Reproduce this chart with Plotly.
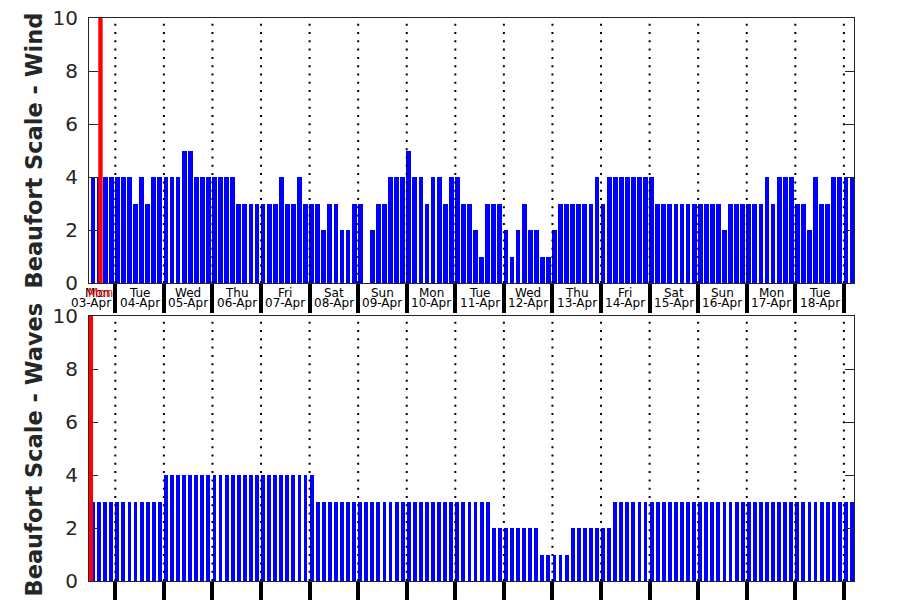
import pandas as pd
import plotly.graph_objects as go

# ---------------- data ----------------
start_time = "2023-04-03 13:00"
n_steps = 126
step = "3h"

wind = [4, 4, 4, 4,
        4, 4, 4, 3, 4, 3, 4, 4,
        4, 4, 4, 5, 5, 4, 4, 4,
        4, 4, 4, 4, 3, 3, 3, 3,
        3, 3, 3, 4, 3, 3, 4, 3,
        3, 3, 2, 3, 3, 2, 2, 3,
        3, 0, 2, 3, 3, 4, 4, 4,
        5, 4, 4, 3, 4, 4, 3, 4,
        4, 3, 3, 2, 1, 3, 3, 3,
        2, 1, 2, 3, 2, 2, 1, 1,
        2, 3, 3, 3, 3, 3, 3, 4,
        3, 4, 4, 4, 4, 4, 4, 4,
        4, 3, 3, 3, 3, 3, 3, 3,
        3, 3, 3, 3, 2, 3, 3, 3,
        3, 3, 3, 4, 3, 4, 4, 4,
        3, 3, 2, 4, 3, 3, 4, 4,
        4, 4]

waves = [3, 3, 3, 3,
         3, 3, 3, 3, 3, 3, 3, 3,
         4, 4, 4, 4, 4, 4, 4, 4,
         4, 4, 4, 4, 4, 4, 4, 4,
         4, 4, 4, 4, 4, 4, 4, 4,
         4, 3, 3, 3, 3, 3, 3, 3,
         3, 3, 3, 3, 3, 3, 3, 3,
         3, 3, 3, 3, 3, 3, 3, 3,
         3, 3, 3, 3, 3, 3, 2, 2,
         2, 2, 2, 2, 2, 2, 1, 1,
         1, 1, 1, 2, 2, 2, 2, 2,
         2, 2, 3, 3, 3, 3, 3, 3,
         3, 3, 3, 3, 3, 3, 3, 3,
         3, 3, 3, 3, 3, 3, 3, 3,
         3, 3, 3, 3, 3, 3, 3, 3,
         3, 3, 3, 3, 3, 3, 3, 3,
         3, 3]

day_names = ["Mon", "Tue", "Wed", "Thu", "Fri", "Sat", "Sun", "Mon",
             "Tue", "Wed", "Thu", "Fri", "Sat", "Sun", "Mon", "Tue"]
day_dates = ["03-Apr", "04-Apr", "05-Apr", "06-Apr", "07-Apr", "08-Apr",
             "09-Apr", "10-Apr", "11-Apr", "12-Apr", "13-Apr", "14-Apr",
             "15-Apr", "16-Apr", "17-Apr", "18-Apr"]
day_starts = ["2023-04-%02d" % d for d in range(4, 20)]
label_days = ["2023-04-%02d 12:00" % d for d in range(3, 19)]

x_range = ["2023-04-03 11:00", "2023-04-19 05:00"]
now_wind = "2023-04-03 16:40"
now_waves = "2023-04-03 12:00"
first_name_x = "2023-04-03 15:10"
first_date_x = "2023-04-03 11:55"

y_title_wind = "Beaufort Scale - Wind"
y_title_waves = "Beaufort Scale - Waves"

times = pd.date_range(start_time, periods=n_steps, freq=step)

# ---------------- figure ----------------
FONT = "DejaVu Sans"
AX = "#262626"
H = 3600 * 1000

fig = go.Figure()
fig.add_trace(go.Bar(x=times, y=wind, width=2.35 * H, marker_color="#0000ff",
                     marker_line_width=0, xaxis="x", yaxis="y", showlegend=False))
fig.add_trace(go.Bar(x=times, y=waves, width=1.9 * H, marker_color="#0000ff",
                     marker_line_width=0, xaxis="x2", yaxis="y2", showlegend=False))

shapes = []
for ya, xa in (("y", "x"), ("y2", "x2")):
    for d in day_starts:
        shapes.append(dict(type="line", xref=xa, yref=ya, x0=d, x1=d, y0=0, y1=10,
                           line=dict(color="black", width=2, dash="2px,6.3px"),
                           layer="above"))
shapes.append(dict(type="line", xref="x", yref="y", x0=now_wind, x1=now_wind,
                   y0=0, y1=10, line=dict(color="#ff0000", width=4.4), layer="above"))
shapes.append(dict(type="line", xref="x2", yref="y2", x0=now_waves, x1=now_waves,
                   y0=0, y1=10, line=dict(color="#ff0000", width=4), layer="above"))

# geometry: the page body adds an 8px offset, so the figure is 892x592
OFF = 8
FW, FH = 900 - OFF, 600 - OFF
L, R, T, B = 89 - OFF, 46, 18 - OFF, 19
plot_w = FW - L - R
plot_h = FH - T - B

def py(pix):
    return (FH - B - (pix - OFF)) / plot_h

def px(pix):
    return (pix - OFF - L) / plot_w

annotations = []
y_name = py(292.5)
y_date = py(302.5)
for i, (nm, dt) in enumerate(zip(day_names, day_dates)):
    xn = first_name_x if i == 0 else label_days[i]
    xd = first_date_x if i == 0 else label_days[i]
    annotations.append(dict(x=xn, y=y_name, xref="x", yref="paper", text=nm,
                            showarrow=False, xanchor="center", yanchor="middle",
                            font=dict(family=FONT, size=12, color="black")))
    annotations.append(dict(x=xd, y=y_date, xref="x", yref="paper", text=dt,
                            showarrow=False, xanchor="center", yanchor="middle",
                            font=dict(family=FONT, size=12, color="black")))
annotations.append(dict(x=now_wind, y=y_name, xref="x", yref="paper", text=day_names[0],
                        showarrow=False, xanchor="center", yanchor="middle",
                        font=dict(family=FONT, size=12, color="#ff0000")))

tx = px(33.5)
annotations.append(dict(x=tx, y=py(151), xref="paper", yref="paper",
                        text="<b>" + y_title_wind + "</b>", textangle=-90,
                        showarrow=False, xanchor="center", yanchor="middle",
                        font=dict(family=FONT, size=22.5, color=AX)))
annotations.append(dict(x=tx, y=py(450), xref="paper", yref="paper",
                        text="<b>" + y_title_waves + "</b>", textangle=-90,
                        showarrow=False, xanchor="center", yanchor="middle",
                        font=dict(family=FONT, size=22.5, color=AX)))

xcommon = dict(type="date", range=x_range, tickvals=day_starts, showticklabels=False,
               ticks="outside", tickwidth=4, tickcolor="black", showgrid=False,
               zeroline=False, showline=True, linecolor=AX, linewidth=1, mirror=True,
               automargin=False)
ycommon = dict(range=[0, 10], tickvals=[0, 2, 4, 6, 8, 10], ticks="inside", ticklen=9,
               tickcolor=AX, showgrid=False, zeroline=False, showline=True,
               linecolor=AX, linewidth=1, mirror="ticks", automargin=False,
               ticklabeloverflow="allow",
               tickfont=dict(family=FONT, size=20, color=AX), ticklabelstandoff=6)

fig.update_layout(
    width=FW, height=FH,
    margin=dict(l=L, r=R, t=T, b=B, pad=0, autoexpand=False),
    paper_bgcolor="white", plot_bgcolor="white",
    font=dict(family=FONT),
    bargap=0,
    xaxis=dict(xcommon, anchor="y", domain=[0, 1], ticklen=29),
    xaxis2=dict(xcommon, anchor="y2", domain=[0, 1], ticklen=22),
    yaxis=dict(ycommon, anchor="x", domain=[py(283), 1]),
    yaxis2=dict(ycommon, anchor="x2", domain=[0, py(316)]),
    shapes=shapes,
    annotations=annotations,
    showlegend=False,
)

fig.write_html("out.html")
